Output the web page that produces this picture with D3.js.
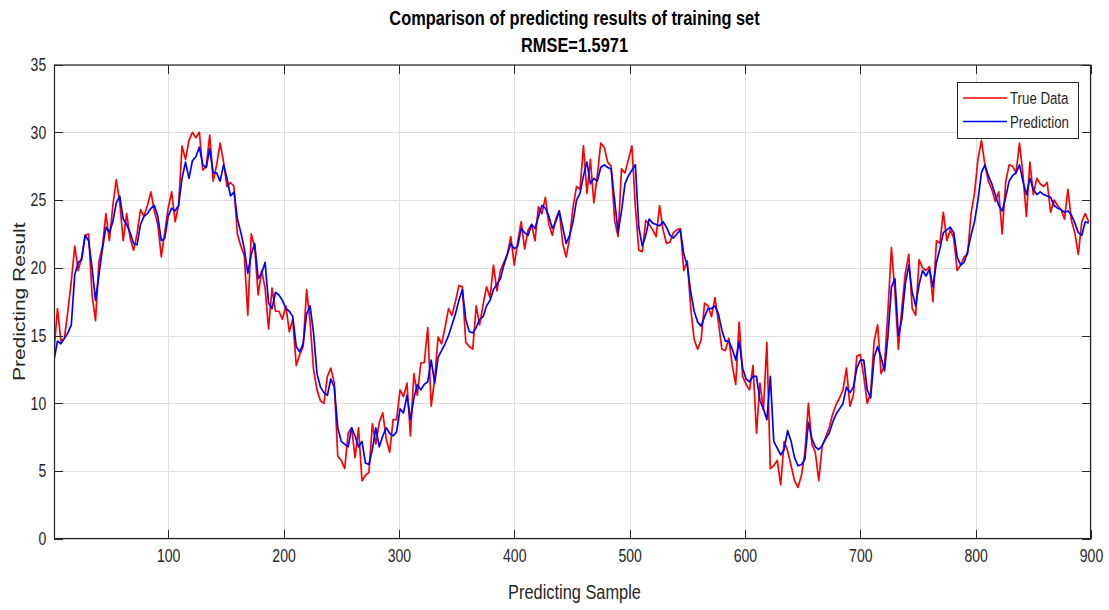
<!DOCTYPE html>
<html>
<head>
<meta charset="utf-8">
<script src="https://cdn.jsdelivr.net/npm/d3@7"></script>
<style>
  html, body { margin: 0; padding: 0; background: #fff; }
  svg { display: block; font-family: "Liberation Sans", Arial, Helvetica, sans-serif; }
</style>
</head>
<body>
<svg id="chart" width="1109" height="610"></svg>
<script>
// Sample numbering of the stored values: sample = firstSample + index * sampleStep
const firstSample = 1;
const sampleStep = 3;

// Measured (true) values of the training set
const trueData = [
  13.8, 17.0, 14.6, 14.8, 16.8, 19.0, 21.6, 19.8, 20.8, 22.4,
  22.5, 18.0, 16.1, 20.5, 21.6, 24.0, 22.0, 24.6, 26.5, 24.8,
  22.0, 24.0, 22.2, 21.3, 22.5, 24.3, 23.8, 24.6, 25.6, 24.2,
  23.2, 20.8, 22.6, 24.4, 25.6, 23.4, 24.6, 29.0, 28.0, 29.4,
  30.0, 29.6, 30.0, 27.2, 27.5, 29.8, 26.4, 27.6, 29.2, 27.8,
  26.0, 26.3, 26.0, 22.5, 21.6, 20.9, 16.5, 22.5, 21.5, 18.0,
  19.8, 18.5, 15.5, 18.5, 16.8, 16.8, 16.2, 17.2, 15.3, 16.2,
  12.8, 13.6, 14.2, 18.4, 16.0, 12.5, 11.0, 10.2, 10.0, 12.0,
  12.6, 11.5, 6.1, 5.8, 5.2, 7.8, 8.2, 6.0, 8.2, 4.3,
  4.7, 4.9, 8.5, 7.0, 8.6, 9.3, 7.4, 6.4, 8.8, 8.8,
  11.0, 10.5, 11.5, 7.6, 12.2, 10.6, 13.0, 13.0, 15.6, 9.8,
  11.8, 14.9, 14.4, 15.6, 17.0, 16.5, 17.5, 18.7, 18.6, 14.5,
  14.2, 14.0, 17.2, 15.8, 17.3, 18.6, 17.8, 20.2, 18.3, 19.8,
  20.4, 21.0, 22.3, 20.2, 21.9, 23.4, 21.4, 22.8, 23.2, 22.0,
  24.5, 24.0, 25.2, 23.2, 22.4, 23.6, 24.2, 21.8, 20.8, 22.2,
  24.5, 26.0, 25.8, 29.0, 25.5, 28.0, 24.8, 26.8, 29.2, 28.9,
  27.8, 27.5, 23.5, 22.3, 27.3, 27.0, 28.0, 29.0, 24.5, 21.3,
  21.2, 23.5, 23.2, 22.8, 22.3, 24.6, 22.8, 21.8, 21.9, 22.6,
  22.8, 22.9, 19.8, 20.5, 17.0, 14.7, 14.0, 14.7, 17.4, 17.2,
  16.4, 17.8, 16.0, 14.0, 13.9, 14.8, 12.8, 11.4, 16.0, 12.0,
  11.4, 11.0, 12.8, 7.8, 11.5, 9.5, 14.5, 5.2, 5.4, 5.8,
  4.0, 7.2, 6.5, 5.4, 4.3, 3.8, 4.7, 6.4, 10.0, 7.0,
  6.4, 4.3, 6.9, 7.5, 8.2, 9.2, 9.9, 10.4, 11.0, 12.6,
  9.8, 10.6, 13.5, 13.6, 12.0, 10.0, 10.8, 14.6, 15.8, 12.2,
  12.8, 16.9, 21.5, 18.2, 14.0, 17.0, 19.6, 21.0, 17.0, 16.5,
  20.6, 20.0, 19.8, 20.1, 17.5, 22.0, 21.8, 24.1, 22.0, 22.8,
  22.2, 19.8, 20.2, 20.8, 21.0, 24.0, 25.5, 28.0, 29.4, 27.6,
  26.4, 25.8, 24.9, 25.6, 22.5, 26.3, 27.6, 27.5, 27.0, 29.2,
  26.9, 23.8, 27.8, 25.4, 26.6, 26.2, 26.0, 26.3, 24.1, 25.0,
  24.6, 24.3, 23.6, 25.8, 23.5, 22.6, 21.0, 23.4, 24.0, 23.4
];

// Model output for the same samples
const prediction = [
  13.2, 14.6, 14.4, 14.8, 15.2, 15.8, 19.5, 20.4, 20.6, 22.4,
  22.0, 20.0, 17.6, 19.5, 21.4, 23.0, 22.6, 23.4, 24.8, 25.3,
  23.6, 23.2, 22.6, 21.8, 21.7, 23.2, 23.8, 24.0, 24.4, 24.6,
  23.8, 22.0, 22.2, 23.8, 24.4, 24.2, 24.6, 26.6, 27.8, 26.6,
  27.9, 28.2, 28.9, 27.6, 27.4, 28.8, 27.0, 27.0, 26.4, 27.6,
  26.6, 25.3, 25.6, 23.6, 22.6, 21.4, 19.6, 21.0, 21.8, 19.2,
  19.6, 20.4, 17.4, 17.0, 18.2, 18.0, 17.6, 17.0, 16.8, 16.4,
  14.2, 13.8, 14.4, 16.6, 17.2, 15.2, 12.2, 11.2, 10.8, 10.6,
  11.8, 11.2, 8.2, 7.2, 7.0, 6.8, 8.2, 7.6, 6.8, 7.2,
  5.6, 5.5, 6.6, 8.2, 6.8, 7.6, 8.2, 7.8, 7.6, 7.9,
  9.6, 9.3, 10.6, 8.8, 10.4, 11.4, 11.0, 11.4, 11.6, 13.2,
  11.5, 13.4, 13.9, 14.4, 15.0, 15.8, 16.6, 17.6, 18.4, 16.2,
  15.3, 15.2, 15.6, 16.2, 16.4, 17.2, 17.6, 18.4, 18.8, 19.2,
  20.2, 21.0, 21.8, 21.4, 21.6, 22.9, 22.6, 22.4, 23.2, 22.9,
  23.8, 24.6, 24.4, 23.8, 22.9, 23.4, 24.2, 23.0, 21.8, 22.4,
  23.4, 25.0, 25.5, 26.8, 27.8, 26.2, 26.6, 26.4, 27.4, 27.6,
  27.4, 27.3, 25.0, 22.6, 24.2, 26.2, 26.8, 27.2, 27.6, 23.0,
  21.6, 22.4, 23.6, 23.3, 23.2, 23.1, 23.4, 23.0, 22.4, 22.2,
  22.5, 22.8, 21.0, 20.2, 18.2, 16.8, 16.0, 15.7, 16.4, 17.0,
  17.0, 17.2, 16.6, 15.4, 14.6, 14.6, 14.0, 13.2, 14.6, 12.6,
  11.8, 11.6, 12.0, 12.0, 10.2, 9.6, 8.8, 12.0, 7.2, 6.7,
  6.2, 6.6, 8.0, 7.2, 6.0, 5.4, 5.5, 5.9, 8.6, 7.4,
  6.8, 6.6, 6.9, 7.4, 7.8, 8.6, 9.2, 9.6, 10.0, 11.2,
  10.8, 11.2, 12.6, 13.2, 13.2, 11.0, 10.4, 13.4, 14.2, 13.4,
  12.4, 15.0, 18.6, 19.2, 15.0, 16.2, 18.8, 20.2, 18.2, 17.2,
  18.8, 19.8, 19.4, 19.9, 18.6, 20.4, 21.4, 22.6, 22.8, 23.0,
  22.6, 20.8, 20.2, 20.4, 21.2, 22.4, 23.4, 25.0, 27.0, 27.6,
  26.8, 26.2, 25.4, 24.6, 24.2, 25.2, 26.4, 26.8, 27.0, 27.6,
  26.4, 25.4, 26.6, 25.8, 25.4, 25.6, 25.4, 25.3, 25.2, 24.6,
  24.4, 24.3, 24.1, 24.2, 23.9, 23.3, 22.6, 22.4, 23.4, 23.3
];

const xDomain = [1, 900];
const yDomain = [0, 35];
const xTicks = [100, 200, 300, 400, 500, 600, 700, 800, 900];
const yTicks = [0, 5, 10, 15, 20, 25, 30, 35];

const titleLines = ["Comparison of predicting results of training set", "RMSE=1.5971"];
const xLabel = "Predicting Sample";
const yLabel = "Predicting Result";
const seriesNames = ["True Data", "Prediction"];
const seriesColors = ["#ff0000", "#0000ff"];

// ---- layout ----
const W = 1109, H = 610;
const plot = { left: 54, right: 1091, top: 64.5, bottom: 539 };
const squeeze = 0.78;          // horizontal text compression of the figure
const axisColor = "#262626";
const gridColor = "#dfdfdf";

const samples = trueData.map((_, i) => firstSample + i * sampleStep);

const x = d3.scaleLinear().domain(xDomain).range([plot.left, plot.right]);
const y = d3.scaleLinear().domain(yDomain).range([plot.bottom, plot.top]);

const svg = d3.select("#chart");
svg.append("rect").attr("width", W).attr("height", H).attr("fill", "#fff");

// grid
const grid = svg.append("g")
  .attr("stroke", gridColor).attr("stroke-width", 1).attr("shape-rendering", "crispEdges");
grid.selectAll("line.gx").data(xTicks).join("line").attr("class", "gx")
  .attr("x1", d => Math.round(x(d)) + 0.5).attr("x2", d => Math.round(x(d)) + 0.5)
  .attr("y1", plot.top).attr("y2", plot.bottom);
grid.selectAll("line.gy").data(yTicks).join("line").attr("class", "gy")
  .attr("y1", d => Math.round(y(d)) + 0.5).attr("y2", d => Math.round(y(d)) + 0.5)
  .attr("x1", plot.left).attr("x2", plot.right);

// data lines
svg.append("clipPath").attr("id", "plot-clip")
  .append("rect")
  .attr("x", plot.left).attr("y", plot.top)
  .attr("width", plot.right - plot.left).attr("height", plot.bottom - plot.top);

const line = d3.line()
  .x((d, i) => x(samples[i]))
  .y(d => y(d));

const lines = svg.append("g").attr("clip-path", "url(#plot-clip)");
[trueData, prediction].forEach((series, k) => {
  lines.append("path")
    .datum(series)
    .attr("fill", "none")
    .attr("stroke", seriesColors[k])
    .attr("stroke-width", 1.7)
    .attr("stroke-linejoin", "round")
    .attr("d", line);
});

// axes (ticks point inwards, box on all four sides)
function styleAxis(g, withText) {
  g.select(".domain").remove();
  g.selectAll(".tick line").attr("stroke", axisColor).attr("shape-rendering", "crispEdges");
  if (withText) {
    g.selectAll(".tick text")
      .attr("fill", axisColor)
      .attr("font-size", 18)
      .attr("transform", `scale(${squeeze},1)`);
  } else {
    g.selectAll(".tick text").remove();
  }
}

svg.append("g")
  .attr("transform", `translate(0,${plot.bottom})`)
  .call(d3.axisBottom(x).tickValues(xTicks).tickSizeInner(-9).tickSizeOuter(0).tickPadding(10).tickFormat(d3.format("d")))
  .call(g => styleAxis(g, true));

svg.append("g")
  .attr("transform", `translate(0,${plot.top})`)
  .call(d3.axisTop(x).tickValues(xTicks).tickSizeInner(-9).tickSizeOuter(0))
  .call(g => styleAxis(g, false));

svg.append("g")
  .attr("transform", `translate(${plot.left},0)`)
  .call(d3.axisLeft(y).tickValues(yTicks).tickSizeInner(-9).tickSizeOuter(0).tickPadding(10).tickFormat(d3.format("d")))
  .call(g => styleAxis(g, true));

svg.append("g")
  .attr("transform", `translate(${plot.right},0)`)
  .call(d3.axisRight(y).tickValues(yTicks).tickSizeInner(-9).tickSizeOuter(0))
  .call(g => styleAxis(g, false));

svg.append("rect")
  .attr("x", plot.left + 0.5).attr("y", plot.top + 0.5)
  .attr("width", plot.right - plot.left - 1).attr("height", plot.bottom - plot.top - 1)
  .attr("fill", "none").attr("stroke", axisColor).attr("stroke-width", 1.2);

// text helper: horizontally compressed text placed at (px, py)
function addText(txt, px, py, size, opts = {}) {
  return svg.append("text")
    .attr("transform", `translate(${px},${py}) scale(${squeeze},1)` + (opts.rotate ? ` rotate(${opts.rotate})` : ""))
    .attr("text-anchor", opts.anchor || "middle")
    .attr("font-size", size)
    .attr("font-weight", opts.bold ? "bold" : "normal")
    .attr("fill", opts.color || axisColor)
    .text(txt);
}

const cx = (plot.left + plot.right) / 2 + 2;
addText(titleLines[0], cx, 25, 21, { bold: true, color: "#000" });
addText(titleLines[1], cx, 52, 21, { bold: true, color: "#000" });
addText(xLabel, cx, 599, 21);
addText(yLabel, 25, (plot.top + plot.bottom) / 2, 21, { rotate: -90 });

// legend
const legend = { x: 957, y: 82, w: 121, h: 56 };
const lg = svg.append("g");
lg.append("rect")
  .attr("x", legend.x + 0.5).attr("y", legend.y + 0.5)
  .attr("width", legend.w).attr("height", legend.h)
  .attr("fill", "#fff").attr("stroke", axisColor).attr("stroke-width", 1);
seriesNames.forEach((name, k) => {
  const ly = legend.y + 16 + k * 23.5;
  lg.append("line")
    .attr("x1", legend.x + 6).attr("x2", legend.x + 50)
    .attr("y1", ly).attr("y2", ly)
    .attr("stroke", seriesColors[k]).attr("stroke-width", 1.7);
  addText(name, legend.x + 53, ly + 6, 17, { anchor: "start" });
});
</script>
</body>
</html>
